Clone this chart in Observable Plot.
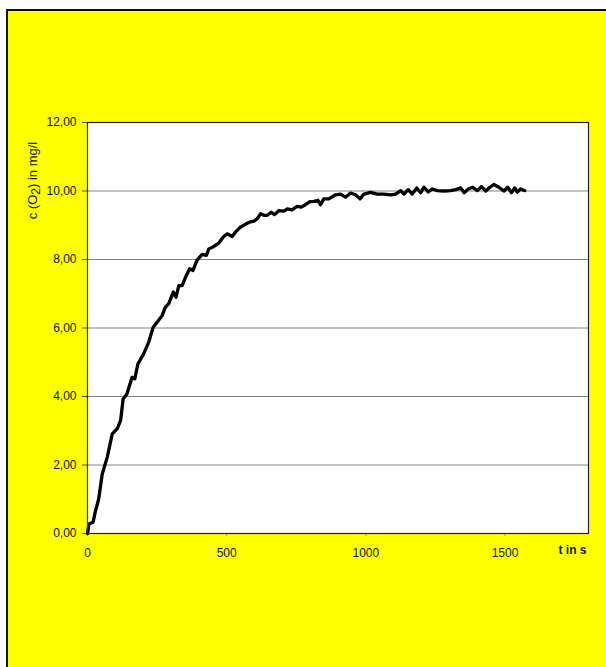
<!DOCTYPE html>
<html>
<head>
<meta charset="utf-8">
<script src="https://cdn.jsdelivr.net/npm/d3@7"></script>
<script src="https://cdn.jsdelivr.net/npm/@observablehq/plot@0.6"></script>
<style>
  html, body { margin: 0; padding: 0; background: #fff; }
  #wrap { position: relative; width: 606px; height: 667px; overflow: hidden; background: #fff; }
  #box { position: absolute; left: 6px; top: 9px; right: 0; bottom: 0; background: #ffff00;
         border-left: 2px solid #111; border-top: 2px solid #111; }
  #chart { position: absolute; left: 0; top: 0; }
</style>
</head>
<body>
<div id="wrap"><div id="box"></div><div id="chart"></div></div>
<script>
// time in s
const time = [0,5,20,29,40,53,71,89,107,119,
  128,142,160,170,181,202,220,236,250,268,
  280,292,308,318,328,340,352,367,379,394,
  412,427,436,454,472,487,502,520,535,550,
  562,574,586,598,610,622,634,646,660,672,
  688,706,718,735,753,768,783,799,813,828,
  837,849,867,891,909,927,945,963,979,993,
  1017,1041,1065,1089,1107,1125,1137,1152,1167,1183,
  1197,1209,1224,1239,1257,1281,1305,1323,1341,1353,
  1368,1383,1401,1415,1431,1446,1460,1478,1496,1510,
  1523,1535,1544,1556,1571];
// c(O2) in mg/l
const conc = [0,0.28,0.33,0.67,1.0,1.74,2.23,2.91,3.06,3.3,
  3.93,4.08,4.56,4.52,4.95,5.25,5.59,6.02,6.17,6.36,
  6.61,6.71,7.05,6.9,7.24,7.24,7.48,7.73,7.68,7.99,
  8.15,8.12,8.31,8.38,8.48,8.65,8.75,8.67,8.83,8.95,
  9.0,9.06,9.1,9.12,9.19,9.34,9.29,9.29,9.38,9.31,
  9.43,9.41,9.48,9.45,9.55,9.53,9.6,9.69,9.7,9.73,
  9.6,9.77,9.77,9.89,9.91,9.82,9.94,9.89,9.77,9.91,
  9.96,9.91,9.91,9.89,9.91,10.01,9.91,10.04,9.91,10.09,
  9.95,10.11,9.97,10.06,10.01,10.0,10.01,10.04,10.09,9.95,
  10.06,10.11,10.01,10.13,10.0,10.11,10.19,10.11,10.0,10.11,
  9.95,10.09,9.97,10.06,10.01];
const yTicks = [0, 2, 4, 6, 8, 10, 12];
const yGrid = [2, 4, 6, 8, 10];
const xTicks = [0, 500, 1000, 1500];
const xLabel = "t in s";
const yLabel = "c (O2) in mg/l";

const data = time.map((t, i) => ({t, c: conc[i]}));
const fmt = d => d.toFixed(2).replace(".", ",");

const chart = Plot.plot({
  width: 606,
  height: 667,
  marginLeft: 87,
  marginTop: 122,
  marginRight: 18,
  marginBottom: 134,
  style: { background: "transparent", fontFamily: "Arial, 'Liberation Sans', sans-serif", fontSize: "12px", color: "#111" },
  x: { domain: [0, 1800] },
  y: { domain: [0, 12] },
  marks: [
    Plot.frame({ fill: "white", stroke: "none" }),
    Plot.gridY(yGrid, { stroke: "#666", strokeOpacity: 1, strokeWidth: 0.8 }),
    Plot.axisY(yTicks, { tickFormat: fmt, tickSize: 5, tickPadding: 6, label: null, stroke: "#444", fill: "#111" }),
    Plot.axisX(xTicks, { tickFormat: d => String(d), tickSize: 3, tickPadding: 12, label: null, stroke: "#999", fill: "#111" }),
    Plot.line(data, { x: "t", y: "c", stroke: "#000", strokeWidth: 3.3, strokeLinejoin: "round" }),
    Plot.frame({ stroke: "#222", strokeWidth: 1.2 }),
    Plot.text([xLabel], { text: d => d, frameAnchor: "bottom-right", dx: -2, dy: 20, textAnchor: "end", fontWeight: "bold", fontSize: 12, fill: "#111" }),
    Plot.text([yLabel], { text: d => d, frameAnchor: "top-left", dx: -60, dy: 58, rotate: -90, textAnchor: "middle", fontSize: 13, fill: "#111" })
  ]
});
document.getElementById("chart").appendChild(chart);

// render the subscript in O2 as a real lowered digit
d3.select(chart).selectAll("text").each(function () {
  const el = d3.select(this);
  if (el.text() === yLabel) {
    el.text(null);
    el.append("tspan").text("c (O");
    el.append("tspan").attr("dy", 3).attr("font-size", 12).text("2");
    el.append("tspan").attr("dy", -3).text(") in mg/l");
  }
});
</script>
</body>
</html>
